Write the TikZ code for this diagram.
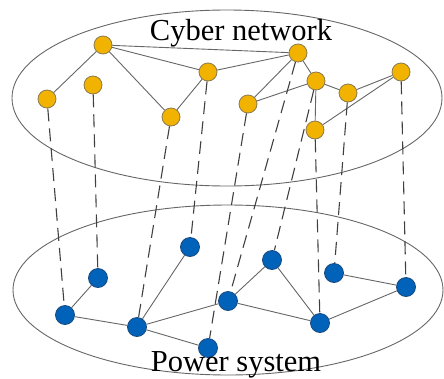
\documentclass[tikz,border=0pt]{standalone}
\usepackage{fontspec}
\setmainfont{Liberation Serif}
\usetikzlibrary{backgrounds}
\definecolor{cyberfill}{HTML}{F2B300}
\definecolor{cyberline}{HTML}{8A7A50}
\definecolor{powerfill}{HTML}{0062B8}
\definecolor{powerline}{HTML}{1A4A80}
\definecolor{edgegray}{HTML}{666666}
\definecolor{dashgray}{HTML}{404040}
\begin{document}
\begin{tikzpicture}[x=1pt,y=-1pt,
  cnode/.style={circle,fill=cyberfill,draw=cyberline,line width=0.8pt,minimum size=18pt,inner sep=0pt},
  pnode/.style={circle,fill=powerfill,draw=powerline,line width=0.8pt,minimum size=19pt,inner sep=0pt},
  link/.style={draw=edgegray,line width=0.9pt},
  couple/.style={draw=dashgray,line width=1.1pt,dash pattern=on 13pt off 7pt},
  layer/.style={draw=edgegray,line width=0.9pt},
  title/.style={font=\fontsize{30.5}{32}\selectfont,anchor=base,inner sep=0pt}]
\useasboundingbox (0,0) rectangle (444,378);
% cyber nodes
\node[cnode] (Y1) at (103,45) {};
\node[cnode] (Y2) at (47,99) {};
\node[cnode] (Y3) at (93,85) {};
\node[cnode] (Y4) at (171,117) {};
\node[cnode] (Y5) at (208,72) {};
\node[cnode] (Y6) at (298,53) {};
\node[cnode] (Y7) at (248,104) {};
\node[cnode] (Y8) at (316,81) {};
\node[cnode] (Y9) at (348,93) {};
\node[cnode] (Y10) at (401,72) {};
\node[cnode] (Y11) at (315,130) {};
% power nodes
\node[pnode] (B1) at (65,315) {};
\node[pnode] (B2) at (98,278) {};
\node[pnode] (B3) at (137,327) {};
\node[pnode] (B4) at (190,247) {};
\node[pnode] (B5) at (208,348) {};
\node[pnode] (B6) at (228,301) {};
\node[pnode] (B7) at (272,260) {};
\node[pnode] (B8) at (320,323) {};
\node[pnode] (B9) at (334,273) {};
\node[pnode] (B10) at (406,287) {};
% titles
\node[title] (ct) at (241,40) {Cyber network};
\node[title] (pt) at (236,371) {Power system};
\begin{scope}[on background layer]
% layers
\draw[layer] (227,98) ellipse [x radius=215pt, y radius=88pt];
\draw[layer] (228,290) ellipse [x radius=215pt, y radius=85pt];
% edges
\path[link] (Y1) -- (Y2) (Y1) -- (Y6) (Y1) -- (Y5) (Y1) -- (Y4)
  (Y5) -- (Y6) (Y5) -- (Y4) (Y6) -- (Y7) (Y6) -- (Y8) (Y7) -- (Y8)
  (Y8) -- (Y9) (Y8) -- (Y11) (Y9) -- (Y10) (Y10) -- (Y11);
\path[link] (B1) -- (B2) (B1) -- (B3) (B3) -- (B4) (B3) -- (B5) (B3) -- (B6)
  (B6) -- (B7) (B6) -- (B8) (B7) -- (B8) (B8) -- (B10) (B9) -- (B10);
% couplings
\path[couple] (Y2) -- (B1) (Y3) -- (B2) (Y4) -- (B3) (Y5) -- (B4)
  (Y7) -- (B5) (Y6) -- (B6) (Y8) -- (B7) (Y11) -- (B8) (Y9) -- (B9) (Y10) -- (B10);
\end{scope}
\end{tikzpicture}
\end{document}
